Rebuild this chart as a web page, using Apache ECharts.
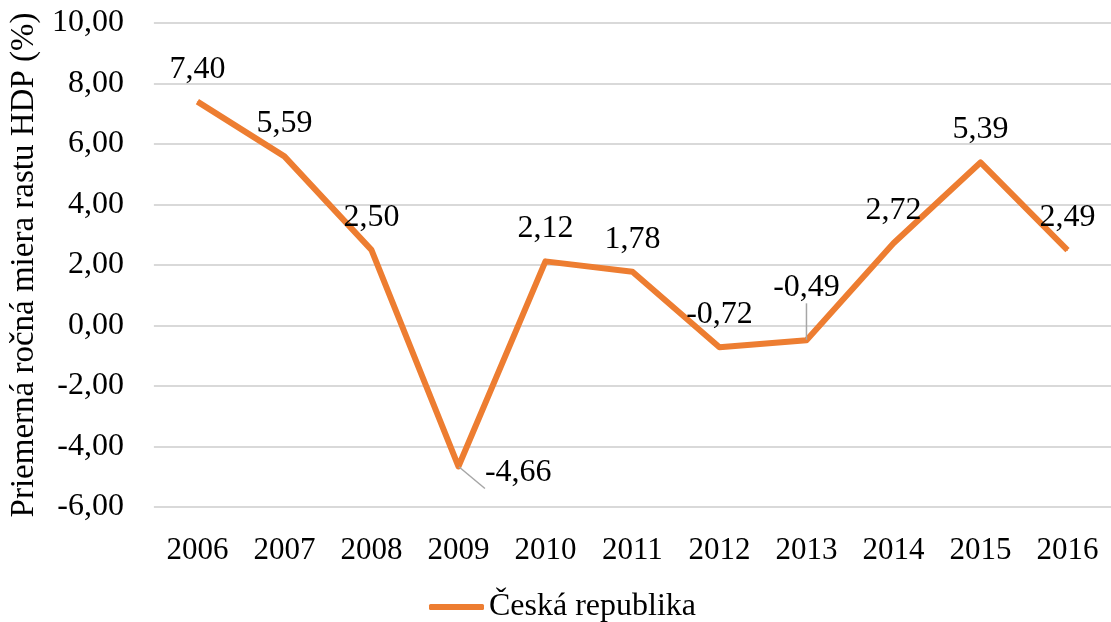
<!DOCTYPE html>
<html>
<head>
<meta charset="utf-8">
<script src="https://cdn.jsdelivr.net/npm/echarts@6/dist/echarts.min.js"></script>
<style>
  html, body { margin: 0; padding: 0; background: #fff; }
  #chart { width: 1111px; height: 622px; }
</style>
</head>
<body>
<div id="chart"></div>
<script>
// data
var years = ['2006', '2007', '2008', '2009', '2010', '2011', '2012', '2013', '2014', '2015', '2016'];
var rastHdp = [7.40, 5.59, 2.50, -4.66, 2.12, 1.78, -0.72, -0.49, 2.72, 5.39, 2.49];
var yTicks = { min: -6, max: 10, interval: 2 };
var seriesName = 'Česká republika';
var yName = 'Priemerná ročná miera rastu HDP (%)';

var fontFam = '"Liberation Serif", "Times New Roman", serif';
var orange = '#ed7d31';

function fmt(v) {
    return v.toFixed(2).replace('.', ',');
}

// label tweaks per year (only the ones that differ)
var labelTweak = {
    '2009': { position: 'right', distance: 26, offset: [0, 6], labelLine: true },
    '2013': { position: 'inside', distance: 0, offset: [0, -53], labelLine: true }
};

var seriesData = rastHdp.map(function (v, i) {
    var item = { value: v };
    var t = labelTweak[years[i]];
    if (t) {
        item.label = { position: t.position, distance: t.distance, offset: t.offset };
        item.labelLine = { show: t.labelLine, lineStyle: { color: '#a6a6a6', width: 1.5 } };
    }
    return item;
});

var chart = echarts.init(document.getElementById('chart'));
var option = {
    animation: false,
    grid: {
        left: 148,
        top: 23,
        width: 969,
        height: 484
    },
    legend: {
        data: [{ name: seriesName, icon: 'roundRect' }],
        bottom: -6,
        left: 424,
        itemWidth: 55,
        itemHeight: 6,
        itemGap: 6,
        textStyle: { fontFamily: fontFam, fontSize: 32, color: '#000' }
    },
    xAxis: {
        type: 'category',
        data: years,
        boundaryGap: true,
        axisLine: { show: false },
        axisTick: { show: false },
        axisLabel: { fontFamily: fontFam, fontSize: 31, color: '#000', margin: 28 }
    },
    yAxis: {
        type: 'value',
        min: yTicks.min,
        max: yTicks.max,
        interval: yTicks.interval,
        name: yName,
        nameLocation: 'middle',
        nameGap: 110,
        nameTextStyle: { fontFamily: fontFam, fontSize: 33, color: '#000' },
        axisLine: { show: false },
        axisTick: { show: false },
        axisLabel: {
            fontFamily: fontFam, fontSize: 32, color: '#000', margin: 30,
            formatter: function (v) { return fmt(v); }
        },
        splitLine: { lineStyle: { color: '#d9d9d9', width: 2 } }
    },
    series: [{
        name: seriesName,
        type: 'line',
        data: seriesData,
        symbol: 'circle',
        symbolSize: 1,
        showSymbol: true,
        lineStyle: { color: orange, width: 6, join: 'round' },
        itemStyle: { color: orange },
        label: {
            show: true,
            position: 'top',
            distance: 16,
            fontFamily: fontFam,
            fontSize: 32,
            color: '#000',
            formatter: function (p) { return fmt(p.value); }
        }
    }]
};
chart.setOption(option);
</script>
</body>
</html>
